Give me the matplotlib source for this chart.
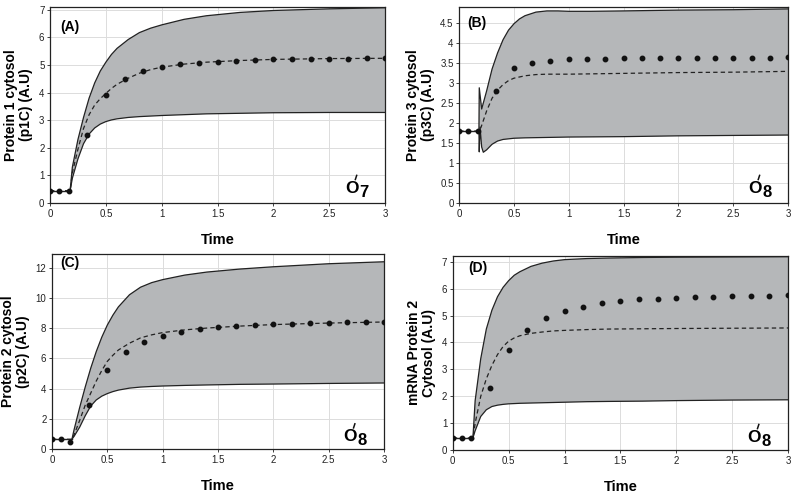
import matplotlib
matplotlib.use("Agg")
import matplotlib.pyplot as plt
from matplotlib.ticker import FuncFormatter
from matplotlib.transforms import offset_copy, ScaledTranslation

plt.rcParams['font.family'] = ['Liberation Sans', 'DejaVu Sans']

# ---- sampled time points (dots) ----
t_dots = [0, 0.083, 0.167, 0.333, 0.5, 0.667, 0.833, 1.0, 1.167, 1.333, 1.5,
          1.667, 1.833, 2.0, 2.167, 2.333, 2.5, 2.667, 2.833, 3.0]

# common time grid for the curves
t_curve = [0.18, 0.2, 0.25, 0.3, 0.35, 0.4, 0.45, 0.5, 0.55, 0.6, 0.7, 0.8,
           0.9, 1.0, 1.2, 1.4, 1.7, 2.0, 2.5, 3.0]

# ---- panel A : p1C ----
a_dots = [0.45, 0.45, 0.45, 2.45, 3.92, 4.5, 4.77, 4.92, 5.02, 5.08, 5.12,
          5.16, 5.18, 5.2, 5.21, 5.22, 5.23, 5.23, 5.24, 5.24]
a_mean = [0.45, 1.1, 1.95, 2.7, 3.2, 3.55, 3.78, 3.97, 4.15, 4.3, 4.52, 4.7,
          4.83, 4.92, 5.03, 5.1, 5.16, 5.2, 5.23, 5.24]
a_upper = [0.45, 1.3, 2.3, 3.1, 3.8, 4.35, 4.78, 5.1, 5.38, 5.6, 5.92, 6.17,
           6.33, 6.45, 6.65, 6.78, 6.9, 6.97, 7.03, 7.07]
a_lower = [0.45, 0.9, 1.6, 2.15, 2.5, 2.72, 2.86, 2.95, 3.01, 3.05, 3.1, 3.13,
           3.15, 3.17, 3.2, 3.23, 3.25, 3.27, 3.28, 3.28]

# ---- panel B : p3C ----
b_dots = [1.8, 1.8, 1.8, 2.8, 3.37, 3.51, 3.56, 3.59, 3.6, 3.61, 3.62,
          3.62, 3.62, 3.63, 3.63, 3.63, 3.63, 3.63, 3.63, 3.64]
b_t_mean = [0.18, 0.2, 0.25, 0.3, 0.35, 0.4, 0.45, 0.5, 0.6, 0.7, 0.8, 1.0,
            1.5, 2.0, 2.5, 3.0]
b_mean = [1.8, 1.9, 2.3, 2.62, 2.82, 2.96, 3.06, 3.12, 3.18, 3.21, 3.22, 3.22,
          3.24, 3.26, 3.27, 3.29]
b_t_upper = [0.18, 0.183, 0.205, 0.25, 0.3, 0.35, 0.4, 0.45, 0.5, 0.55, 0.6,
             0.7, 0.8, 0.9, 1.0, 1.2, 1.5, 2.0, 2.5, 3.0]
b_upper = [1.8, 2.88, 2.35, 2.8, 3.35, 3.75, 4.08, 4.32, 4.48, 4.6, 4.68,
           4.77, 4.8, 4.8, 4.79, 4.79, 4.8, 4.82, 4.83, 4.85]
b_t_lower = [0.18, 0.183, 0.19, 0.205, 0.22, 0.25, 0.3, 0.35, 0.4, 0.5, 0.6,
             0.8, 1.0, 1.5, 2.0, 2.5, 3.0]
b_lower = [1.8, 1.28, 1.9, 1.4, 1.27, 1.33, 1.47, 1.55, 1.59, 1.62, 1.63,
           1.64, 1.65, 1.66, 1.68, 1.69, 1.7]

# ---- panel C : p2C ----
c_dots = [0.65, 0.65, 0.5, 2.9, 5.23, 6.4, 7.06, 7.5, 7.73, 7.93, 8.04,
          8.15, 8.21, 8.26, 8.28, 8.32, 8.34, 8.37, 8.37, 8.39]
c_mean = [0.65, 0.95, 1.9, 2.9, 3.7, 4.5, 5.2, 5.8, 6.2, 6.55, 7.0, 7.35,
          7.55, 7.7, 7.88, 8.0, 8.13, 8.23, 8.33, 8.4]
c_upper = [0.65, 1.3, 2.75, 4.1, 5.35, 6.45, 7.4, 8.2, 8.85, 9.4, 10.2, 10.7,
           11.0, 11.2, 11.5, 11.7, 11.9, 12.05, 12.25, 12.38]
c_lower = [0.65, 0.85, 1.45, 2.2, 2.85, 3.25, 3.5, 3.67, 3.8, 3.9, 4.03, 4.1,
           4.14, 4.17, 4.21, 4.24, 4.28, 4.3, 4.34, 4.37]

# ---- panel D : mRNA protein 2 ----
d_dots = [0.45, 0.45, 0.45, 2.3, 3.71, 4.47, 4.91, 5.16, 5.32, 5.45, 5.53,
          5.6, 5.63, 5.66, 5.68, 5.7, 5.72, 5.73, 5.73, 5.75]
d_mean = [0.45, 1.0, 2.0, 2.65, 3.15, 3.55, 3.85, 4.05, 4.17, 4.25, 4.34, 4.39,
          4.43, 4.45, 4.48, 4.5, 4.51, 4.52, 4.53, 4.54]
d_upper = [0.45, 1.84, 3.4, 4.5, 5.2, 5.7, 6.05, 6.3, 6.5, 6.63, 6.83, 6.95,
           7.03, 7.08, 7.12, 7.14, 7.16, 7.17, 7.18, 7.19]
d_lower = [0.45, 0.72, 1.25, 1.5, 1.62, 1.67, 1.7, 1.72, 1.73, 1.74, 1.75, 1.76,
           1.77, 1.78, 1.8, 1.81, 1.82, 1.84, 1.86, 1.87]

panels = [
    dict(rect=[0.0625, 0.588, 0.419, 0.398], ylim=7.1, yticks=range(0, 8),
         letter='(A)', lpos=(0.03, 0.90), tag='7', tpos=(0.88, 0.077),
         ylabel='Protein 1 cytosol\n(p1C) (A.U)',
         dots=a_dots, tm=t_curve, m=a_mean, tu=t_curve, up=a_upper,
         tl=t_curve, lo=a_lower),
    dict(rect=[0.574, 0.588, 0.411, 0.398], ylim=4.9,
         yticks=[0, 0.5, 1, 1.5, 2, 2.5, 3, 3.5, 4, 4.5],
         letter='(B)', lpos=(0.024, 0.92), tag='8', tpos=(0.878, 0.077),
         ylabel='Protein 3 cytosol\n(p3C) (A.U)',
         dots=b_dots, tm=b_t_mean, m=b_mean, tu=b_t_upper, up=b_upper,
         tl=b_t_lower, lo=b_lower),
    dict(rect=[0.065, 0.089, 0.415, 0.396], ylim=12.9, yticks=range(0, 13, 2),
         letter='(C)', lpos=(0.024, 0.955), tag='8', tpos=(0.877, 0.065),
         ylabel='Protein 2 cytosol\n(p2C) (A.U)',
         dots=c_dots, tm=t_curve, m=c_mean, tu=t_curve, up=c_upper,
         tl=t_curve, lo=c_lower),
    dict(rect=[0.566, 0.087, 0.419, 0.394], ylim=7.22, yticks=range(0, 8),
         letter='(D)', lpos=(0.045, 0.935), tag='8', tpos=(0.878, 0.067),
         ylabel='mRNA Protein 2\nCytosol (A.U)',
         dots=d_dots, tm=t_curve, m=d_mean, tu=t_curve, up=d_upper,
         tl=t_curve, lo=d_lower),
]

fig = plt.figure(figsize=(8, 4.93), dpi=100)

for p in panels:
    ax = fig.add_axes(p['rect'])
    base = p['dots'][0]

    # shaded band: polygon from upper and (reversed) lower boundary
    poly_t = list(p['tu']) + list(p['tl'])[::-1]
    poly_y = list(p['up']) + list(p['lo'])[::-1]
    ax.fill(poly_t, poly_y, color='#b5b7b9', lw=0, zorder=1)
    ax.plot(p['tu'], p['up'], color='#222222', lw=0.9, zorder=3)
    ax.plot(p['tl'], p['lo'], color='#222222', lw=0.9, zorder=3)

    # baseline before stimulus, mean curve, data points
    ax.plot([0, p['tu'][0]], [base, base], color='#222222', lw=1.0, zorder=3)
    ax.plot([0] + list(p['tm']), [base] + list(p['m']), color='#222222',
            lw=0.9, ls=(0, (3.5, 2.5)), zorder=4)
    ax.plot(t_dots, p['dots'], 'o', color='#111111', ms=3.2, zorder=5)

    ax.set_xlim(0, 3)
    ax.set_ylim(0, p['ylim'])
    ax.set_xticks([0, 0.5, 1, 1.5, 2, 2.5, 3])
    ax.set_yticks(list(p['yticks']))
    fmt = FuncFormatter(lambda v, pos: '%g' % v)
    ax.xaxis.set_major_formatter(fmt)
    ax.yaxis.set_major_formatter(fmt)
    ax.tick_params(labelsize=7, length=2, width=0.6, pad=2, colors='#222222')
    ax.grid(True, color='#dcdcdc', lw=0.7, zorder=0)
    ax.set_axisbelow(True)
    for s in ax.spines.values():
        s.set_linewidth(0.9)
        s.set_color('#222222')

    ax.set_xlabel('Time', fontsize=10.5, fontweight='bold', labelpad=10)
    ax.set_ylabel(p['ylabel'], fontsize=10, fontweight='bold', labelpad=4,
                  linespacing=1.1)
    ax.text(p['lpos'][0], p['lpos'][1], p['letter'], transform=ax.transAxes,
            fontsize=10, fontweight='bold', va='center', ha='left', zorder=6)

    # O' with subscript number; the prime is a short stroke above the O
    tx, ty = p['tpos']
    ax.text(tx, ty, 'O', transform=ax.transAxes, fontsize=12.5,
            fontweight='bold', va='center', ha='left', zorder=6)
    ax.text(tx, ty, p['tag'], fontsize=12, fontweight='bold', va='center',
            ha='left', zorder=6,
            transform=offset_copy(ax.transAxes, fig, x=10.2, y=-3, units='points'))
    anchor = fig.dpi_scale_trans + ScaledTranslation(tx, ty, ax.transAxes)
    ax.plot([7.3 / 72, 8.6 / 72], [5.6 / 72, 9.6 / 72], color='#111111',
            lw=1.1, solid_capstyle='butt', transform=anchor, clip_on=False,
            zorder=6)

fig.savefig('out.png', dpi=100)
